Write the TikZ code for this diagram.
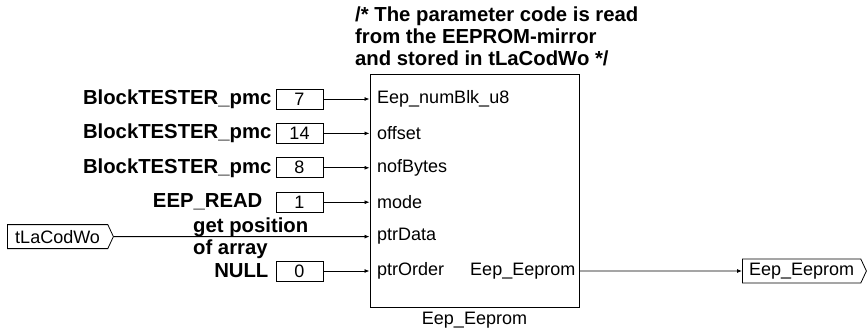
\documentclass[tikz,border=0pt]{standalone}
\usepackage{fontspec}
\setmainfont{Liberation Sans}
\usetikzlibrary{positioning, arrows.meta, shapes.symbols}

\begin{document}
\begin{tikzpicture}[x=1pt, y=-1pt,
    txt/.style={font=\fontsize{18}{21}\selectfont, inner sep=0pt},
    lbl/.style={font=\fontsize{20.3}{22}\selectfont\bfseries, inner sep=0pt},
    cst/.style={draw, line width=0.8pt, minimum width=47pt, minimum height=20pt, inner sep=0pt, font=\fontsize{18}{21}\selectfont},
    portin/.style={txt, anchor=west, inner xsep=7.5pt},
    sig/.style={draw, line width=0.8pt, signal, signal to=east, signal pointer angle=130, minimum height=24pt, inner sep=0pt, font=\fontsize{18}{21}\selectfont},
    wire/.style={line width=0.8pt, -{Latex[length=5pt,width=4pt]}}]
  \useasboundingbox (0,0) rectangle (867,331);
  \node[draw, line width=1pt, minimum width=209pt, minimum height=232pt, inner sep=0pt] (blk) at (474.5,191) {};
  \node[lbl, align=left, anchor=north west] (cmt) at (355,7) {/* The parameter code is read\\from the EEPROM-mirror\\and stored in tLaCodWo */};
  % constant inputs
  \foreach \i/\y/\gap/\name/\val/\port in {1/99/4/BlockTESTER\_pmc/7/Eep\_numBlk\_u8,
      2/133.4/4/BlockTESTER\_pmc/14/offset, 3/167.8/4/BlockTESTER\_pmc/8/nofBytes,
      4/202.2/13/EEP\_READ/1/mode, 6/271/7/NULL/0/ptrOrder}
  {
    \node[cst] (c\i) at (299.5,\y) {\val};
    \node[lbl, left=\gap pt of c\i] (l\i) {\name};
    \node[portin] (p\i) at (blk.west |- c\i) {\port};
    \draw[wire] (c\i) -- (p\i);
  }
  % pointer input
  \node[sig, anchor=west, minimum width=106pt] (inp) at (7,236.6) {tLaCodWo};
  \node[portin] (p5) at (blk.west |- inp) {ptrData};
  \draw[wire] (inp) -- (p5);
  \node[lbl, align=left, anchor=west] (gpa) at (193,238) {get position\\of array};
  % output
  \node[txt, anchor=east, inner xsep=4pt] (out) at (blk.east |- c6) {Eep\_Eeprom};
  \node[sig, anchor=west, minimum width=124pt] (outp) at (742,271) {Eep\_Eeprom};
  \draw[wire] (out) -- (outp);
  \node[txt, below=4pt of blk] (name) {Eep\_Eeprom};
\end{tikzpicture}
\end{document}
